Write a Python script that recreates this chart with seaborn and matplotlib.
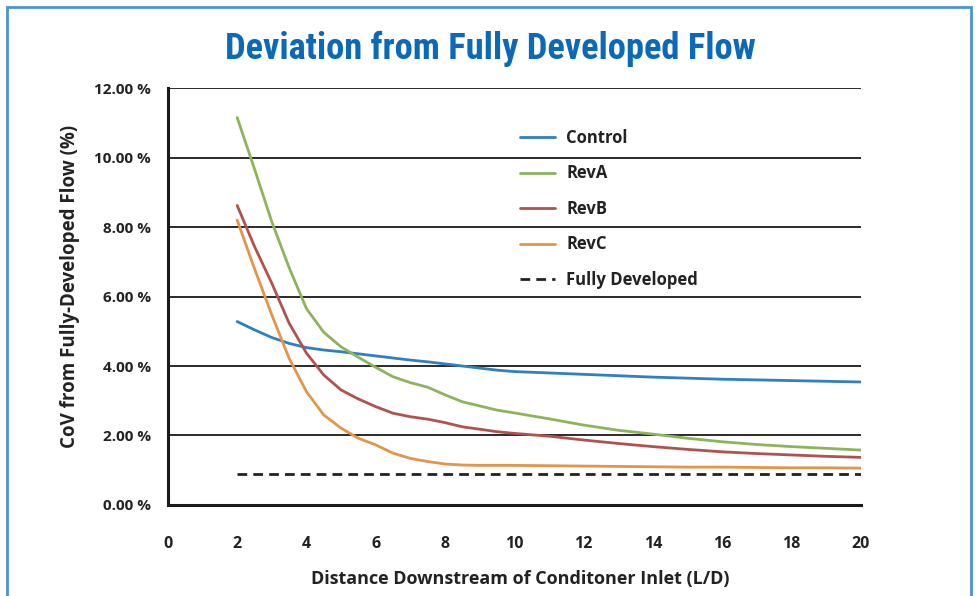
import numpy as np
import pandas as pd
import matplotlib
matplotlib.use("Agg")
import matplotlib.pyplot as plt
import seaborn as sns
from matplotlib.patches import Rectangle
from matplotlib.ticker import MultipleLocator, FuncFormatter

# Data (CoV in %, distance in L/D)
distance = [2, 2.5, 3, 3.5, 4, 4.5, 5, 5.5, 6, 6.5, 7, 7.5, 8, 8.5, 9, 9.5,
            10, 11, 12, 13, 14, 15, 16, 17, 18, 19, 20]
control = [5.28, 5.04, 4.82, 4.65, 4.53, 4.46, 4.41, 4.35, 4.29, 4.23, 4.17,
           4.12, 4.06, 4.00, 3.94, 3.88, 3.84, 3.80, 3.76, 3.72, 3.68, 3.65,
           3.62, 3.60, 3.58, 3.56, 3.54]
rev_a = [11.15, 9.67, 8.15, 6.83, 5.65, 4.97, 4.55, 4.25, 3.96, 3.69, 3.52,
         3.39, 3.17, 2.97, 2.85, 2.73, 2.65, 2.48, 2.30, 2.15, 2.04, 1.92,
         1.82, 1.74, 1.68, 1.63, 1.58]
rev_b = [8.62, 7.44, 6.38, 5.23, 4.37, 3.74, 3.31, 3.05, 2.83, 2.64, 2.54,
         2.47, 2.37, 2.25, 2.18, 2.11, 2.06, 1.98, 1.87, 1.77, 1.68, 1.60,
         1.53, 1.48, 1.44, 1.40, 1.37]
rev_c = [8.20, 6.80, 5.47, 4.22, 3.26, 2.59, 2.21, 1.92, 1.73, 1.49, 1.34,
         1.25, 1.18, 1.15, 1.14, 1.14, 1.14, 1.13, 1.12, 1.11, 1.10, 1.09,
         1.09, 1.08, 1.07, 1.07, 1.06]
fully_developed_x = [2, 20]
fully_developed = [0.88, 0.88]

series = ["Control", "RevA", "RevB", "RevC"]
colors = {"Control": "#2F7FC1", "RevA": "#8DB35C", "RevB": "#B0534F", "RevC": "#E3954A"}

df = pd.DataFrame({
    "distance": distance * 4,
    "cov": control + rev_a + rev_b + rev_c,
    "series": np.repeat(series, len(distance)),
})

sns.set_style("white")
plt.rcParams["font.family"] = ["Open Sans", "DejaVu Sans"]

fig = plt.figure(figsize=(9.76, 5.96), dpi=100)
ax = fig.add_axes([0.172, 0.1527, 0.710, 0.6996])

sns.lineplot(data=df, x="distance", y="cov", hue="series", palette=colors,
             linewidth=2, ax=ax)
ax.plot(fully_developed_x, fully_developed, color="#222222", linewidth=2,
        linestyle=(0, (3.5, 2.2)), label="Fully Developed")

ax.set_xlim(0, 20)
ax.set_ylim(0, 12)
ax.xaxis.set_major_locator(MultipleLocator(2))
ax.xaxis.set_minor_locator(MultipleLocator(1))
ax.yaxis.set_major_locator(MultipleLocator(2))
ax.yaxis.set_major_formatter(FuncFormatter(lambda v, p: f"{v:.2f} %"))

for y in range(2, 13, 2):
    ax.axhline(y, color="#1a1a1a", linewidth=1.3, zorder=0)

for s in ["top", "right"]:
    ax.spines[s].set_visible(False)
for s in ["left", "bottom"]:
    ax.spines[s].set_color("#1a1a1a")
    ax.spines[s].set_linewidth(2.2)

ax.tick_params(axis="x", which="major", direction="inout", length=9, width=2,
               color="#1a1a1a", pad=18, labelsize=11.5, labelcolor="#222222")
ax.tick_params(axis="x", which="minor", direction="out", length=3, width=2,
               color="#1a1a1a")
ax.tick_params(axis="y", which="major", direction="out", length=5, width=2,
               color="#1a1a1a", pad=7, labelsize=11, labelcolor="#222222")
for lbl in ax.get_xticklabels() + ax.get_yticklabels():
    lbl.set_fontweight("bold")

ax.set_xlabel("Distance Downstream of Conditoner Inlet (L/D)", fontsize=13,
              fontweight="bold", color="#222222")
ax.set_ylabel("CoV from Fully-Developed Flow (%)", fontsize=13.5,
              fontweight="bold", color="#222222")
ax.xaxis.set_label_coords(0.508, -0.156)
ax.yaxis.set_label_coords(-0.127, 0.524)

handles, labels = ax.get_legend_handles_labels()
leg = ax.legend(handles, labels, loc="upper left", bbox_to_anchor=(0.487, 0.938),
                frameon=False, fontsize=12, handlelength=2.1, handletextpad=0.65,
                labelspacing=1.05)
for t in leg.get_texts():
    t.set_fontweight("bold")
    t.set_color("#222222")

fig.text(0.502, 0.918, "Deviation from Fully Developed Flow", ha="center",
         va="center", fontsize=26.3, fontweight="bold", fontstretch="condensed",
         color="#0B69B7",
         family=["Roboto Condensed", "Open Sans Condensed", "Noto Sans Condensed",
                 "Liberation Sans Narrow", "Noto Sans", "DejaVu Sans"])

fig.patches.append(Rectangle((0.0072, -0.05), 0.9877, 1.038, transform=fig.transFigure,
                             fill=False, edgecolor="#4A93CF", linewidth=2))

fig.savefig("out.png", dpi=100)
